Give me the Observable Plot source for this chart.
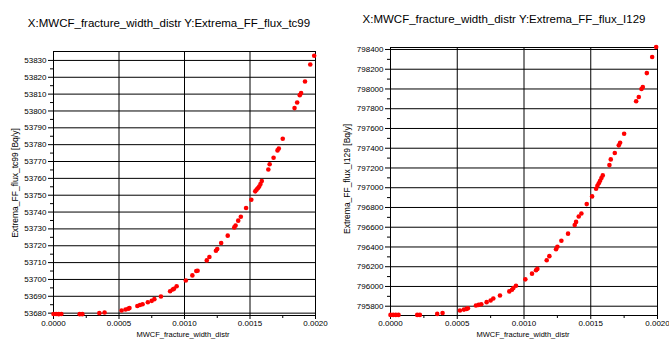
<!DOCTYPE html>
<html><head><meta charset="utf-8">
<script src="https://cdn.jsdelivr.net/npm/d3@7"></script>
<script src="https://cdn.jsdelivr.net/npm/@observablehq/plot@0.6"></script>
<style>
body{margin:0;background:#fff;font-family:"Liberation Sans",Arial,sans-serif;}
#wrap{position:relative;width:669px;height:339px;overflow:hidden;background:#fff;}
.panel{position:absolute;top:0;}
.txt{position:absolute;white-space:nowrap;color:#000;line-height:1;}
.title{font-size:11.5px;transform:translate(-50%,-50%);}
.ylab{font-size:8.5px;transform:translate(-50%,-50%) rotate(-90deg);}
.xlab{font-size:7.5px;transform:translate(-50%,-50%);}
</style>
</head><body>
<div id="wrap"></div>
<script>
// Shared x sample: MWCF_fracture_width_distr
const widthDistr = [0.00000,0.00002,0.00004,0.00006,0.00020,0.00022,0.00035,0.00039,0.00052,0.00055,0.00057,0.00058,0.00064,0.00066,0.00068,0.00072,0.00075,0.00077,0.00082,0.00089,0.00091,0.00092,0.00094,0.00101,0.00106,0.00109,0.00110,0.00117,0.00119,0.00124,0.00125,0.00128,0.00133,0.00138,0.00139,0.00141,0.00143,0.00147,0.00151,0.00154,0.00155,0.00156,0.00157,0.00158,0.00159,0.00164,0.00165,0.00168,0.00171,0.00172,0.00175,0.00184,0.00186,0.00188,0.00189,0.00192,0.00196,0.00199];
// Extrema_FF_flux_tc99 [Bq/y]
const fluxTc99 = [53679.5,53679.5,53679.4,53679.5,53679.4,53679.4,53680.0,53680.4,53681.6,53682.2,53682.6,53683.0,53684.2,53684.8,53685.3,53686.5,53687.3,53688.3,53689.9,53693.0,53694.0,53694.5,53696.0,53699.4,53702.4,53705.0,53705.2,53711.3,53713.3,53717.0,53718.0,53721.6,53726.0,53730.9,53732.0,53734.9,53737.2,53742.4,53747.3,53752.3,53753.3,53754.1,53755.2,53756.6,53758.4,53765.3,53768.4,53772.2,53776.6,53777.7,53783.5,53801.7,53805.0,53809.4,53810.6,53817.5,53827.6,53832.8];
// Extrema_FF_flux_I129 [Bq/y]
const fluxI129 = [795712,795712,795712,795712,795712,795712,795722,795732,795756,795766,795773,795780,795807,795814,795820,795841,795858,795878,795909,795950,795967,795984,796007,796072,796130,796164,796178,796266,796307,796378,796402,796463,796535,796623,796654,796708,796739,796834,796912,796990,797020,797045,797070,797098,797125,797229,797287,797351,797429,797456,797547,797875,797918,797999,798020,798161,798324,798425];

const xTicks = [0,0.0005,0.001,0.0015,0.002];
const xMinor = [0.00025,0.00075,0.00125,0.00175];
const tc99Ticks = d3.range(53680,53831,10);
const tc99Minor = d3.range(53685,53835,10);
const i129Ticks = d3.range(795800,798401,200);
const i129Minor = d3.range(795900,798400,200);

const titles = ["X:MWCF_fracture_width_distr Y:Extrema_FF_flux_tc99","X:MWCF_fracture_width_distr Y:Extrema_FF_flux_I129"];
const yLabels = ["Extrema_FF_flux_tc99 [Bq/y]","Extrema_FF_flux_I129 [Bq/y]"];
const xLabel = "MWCF_fracture_width_distr";

function panel(ys, yDomain, yTicks, yMinor, opts){
  const data = widthDistr.map((x,i)=>({x, y: ys[i]}));
  return Plot.plot({
    width: opts.width, height: 339,
    marginLeft: opts.ml, marginRight: opts.mr, marginTop: opts.mt, marginBottom: 24,
    style: {fontFamily: '"Liberation Sans",Arial,sans-serif', fontSize: "8px", background: "#fff", color: "#000"},
    x: {domain: [0,0.002]},
    y: {domain: yDomain},
    marks: [
      Plot.gridX(xTicks, {stroke: "#000", strokeOpacity: 1}),
      Plot.gridY(yTicks, {stroke: "#000", strokeOpacity: 1}),
      Plot.axisX(xTicks, {tickSize: 4, tickPadding: 1, tickFormat: d3.format(".4f"), label: null, fontSize: 8}),
      Plot.axisX(xMinor, {tickSize: 3, tickFormat: () => "", label: null}),
      Plot.axisY(yTicks, {tickSize: 5, tickPadding: 2, tickFormat: d => String(d), label: null, fontSize: 8}),
      Plot.axisY(yMinor, {tickSize: 3, tickFormat: () => "", label: null}),
      Plot.frame({stroke: "#000"}),
      Plot.dot(data, {x: "x", y: "y", r: 2.3, fill: "#ff0000", stroke: "none"})
    ]
  });
}

const wrap = document.getElementById("wrap");
function place(node, left){ node.classList.add("panel"); node.style.left = left + "px"; wrap.appendChild(node); }
place(panel(fluxTc99, [53678.6, 53835.3], tc99Ticks, tc99Minor, {width: 335, ml: 53, mr: 20, mt: 51}), 0);
place(panel(fluxI129, [795706, 798420], i129Ticks, i129Minor, {width: 334, ml: 55, mr: 12, mt: 47}), 335);

function text(cls, str, x, y){ const d = document.createElement("div"); d.className = "txt " + cls; d.textContent = str; d.style.left = x + "px"; d.style.top = y + "px"; wrap.appendChild(d); }
text("title", titles[0], 169, 24);
text("title", titles[1], 504, 20);
text("ylab", yLabels[0], 15, 183);
text("ylab", yLabels[1], 347, 179);
text("xlab", xLabel, 183, 334.5);
text("xlab", xLabel, 523, 334.5);
</script>
</body></html>
